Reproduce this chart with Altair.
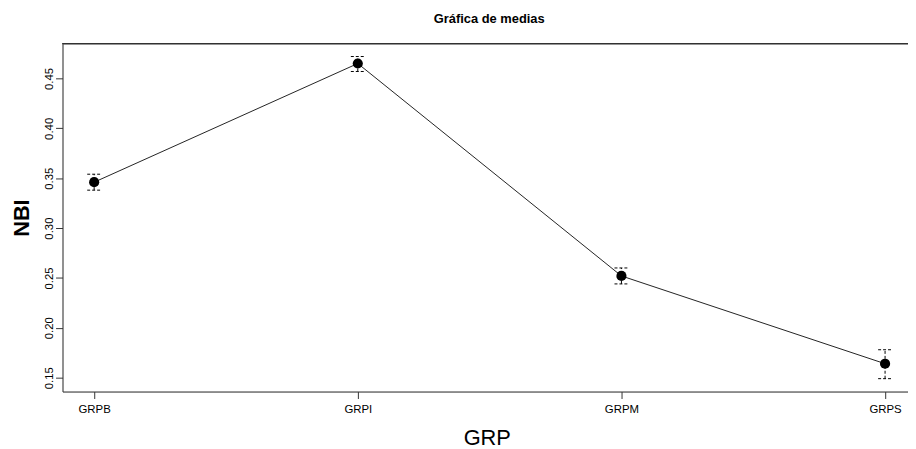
import altair as alt
import pandas as pd

# Data
groups = ["GRPB", "GRPI", "GRPM", "GRPS"]
means = [0.346, 0.465, 0.252, 0.164]
upper = [0.354, 0.472, 0.260, 0.178]
lower = [0.338, 0.457, 0.244, 0.149]
y_ticks = [0.15, 0.20, 0.25, 0.30, 0.35, 0.40, 0.45]

df = pd.DataFrame({
    "idx": list(range(1, len(groups) + 1)),
    "grp": groups,
    "mean": means,
    "upper": upper,
    "lower": lower,
})

FONT = "Liberation Sans"
W, H = 853, 351

lo, hi = min(lower), max(upper)
ext = 0.04 * (hi - lo)
y_dom = [lo - ext, hi + ext]
x_dom = [0.88, 4.087]

label_expr = "[" + ",".join(f"'{g}'" for g in groups) + "][datum.value - 1]"

x_enc = alt.X(
    "idx:Q",
    scale=alt.Scale(domain=x_dom, nice=False, zero=False),
    axis=alt.Axis(
        values=list(range(1, len(groups) + 1)),
        labelExpr=label_expr,
        title="GRP",
        titleFont=FONT, titleFontSize=22, titleFontWeight="normal",
        titleX=428, titleY=53, titleAlign="center", titleBaseline="alphabetic",
        titleColor="black",
        labelFont=FONT, labelFontSize=11.5, labelColor="black",
        labelPadding=5, tickSize=7, tickColor="#333",
        domainColor="#333", grid=False,
    ),
)
y_enc = alt.Y(
    "mean:Q",
    scale=alt.Scale(domain=y_dom, nice=False, zero=False),
    axis=alt.Axis(
        values=y_ticks, format=".2f",
        title="NBI",
        titleFont=FONT, titleFontSize=22, titleFontWeight="bold",
        titleX=-34, titleY=H / 2, titleAngle=270, titleAlign="center",
        titleBaseline="alphabetic", titleColor="black",
        labelFont=FONT, labelFontSize=11.5, labelColor="black",
        labelAngle=270, labelAlign="center", labelBaseline="alphabetic",
        labelPadding=3, tickSize=7, tickColor="#333",
        domainColor="#333", grid=False,
    ),
)

base = alt.Chart(df)

line = base.mark_line(color="#222", strokeWidth=1).encode(x=x_enc, y=y_enc)

bars = base.mark_rule(color="black", strokeWidth=1, strokeDash=[3, 2]).encode(
    x="idx:Q", y="lower:Q", y2="upper:Q"
)
cap_top = base.mark_rule(color="black", strokeWidth=1, strokeDash=[3, 2],
                         xOffset=-7, x2Offset=8).encode(
    x="idx:Q", x2="idx:Q", y="upper:Q"
)
cap_bot = base.mark_rule(color="black", strokeWidth=1, strokeDash=[3, 2],
                         xOffset=-7, x2Offset=8).encode(
    x="idx:Q", x2="idx:Q", y="lower:Q"
)

points = base.mark_point(filled=True, color="black", size=105, opacity=1).encode(
    x="idx:Q", y="mean:Q"
)

top_border = alt.Chart(df).mark_rule(color="#333", strokeWidth=1).encode(
    x=alt.value(0), x2=alt.value(W), y=alt.value(0)
)

chart = (
    alt.layer(line, bars, cap_top, cap_bot, points, top_border)
    .properties(
        width=W, height=H,
        autosize=alt.AutoSizeParams(type="none"),
        padding={"left": 55, "top": 34, "right": 0, "bottom": 56},
        title=alt.TitleParams(
            "Gráfica de medias", font=FONT, fontSize=13, fontWeight="bold",
            anchor="middle", frame="group", dx=4, offset=7,
            baseline="alphabetic", color="black",
        ),
    )
    .configure_view(stroke=None)
    .configure(background="white")
)

chart.save("out.html", embed_options={"renderer": "svg", "actions": False})
